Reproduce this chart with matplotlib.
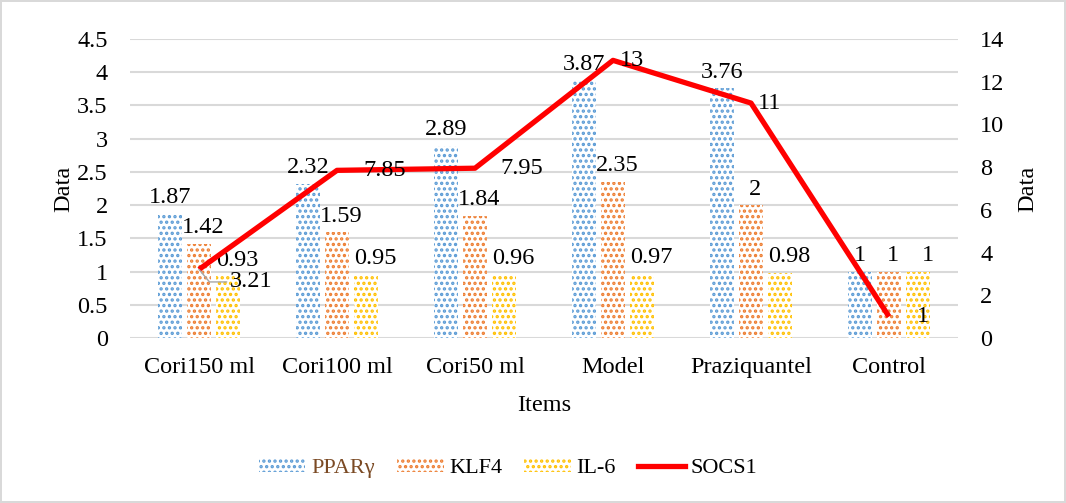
import numpy as np
import matplotlib.pyplot as plt
from matplotlib.lines import Line2D
from matplotlib.patches import Patch

# data
items = ['Cori150 ml', 'Cori100 ml', 'Cori50 ml', 'Model', 'Praziquantel', 'Control']
ppar = [1.87, 2.32, 2.89, 3.87, 3.76, 1]
klf4 = [1.42, 1.59, 1.84, 2.35, 2, 1]
il6 = [0.93, 0.95, 0.96, 0.97, 0.98, 1]
socs1 = [3.21, 7.85, 7.95, 13, 11, 1]

plt.rcParams['font.family'] = ['Liberation Serif', 'DejaVu Serif']
plt.rcParams['font.size'] = 17.5
plt.rcParams['hatch.linewidth'] = 1.6

fig = plt.figure(figsize=(10.66, 5.03), dpi=100)
fig.patch.set_edgecolor('#d9d9d9')
fig.patch.set_linewidth(1.5)
ax = fig.add_axes([130 / 1066, 1 - 338 / 503, 828 / 1066, 299 / 503])
ax2 = ax.twinx()

x = np.arange(len(items))
w = 0.18
off = 0.21
series = [(ppar, '#5b9bd5', -off, 0), (klf4, '#ed7d31', 0, 3), (il6, '#ffc000', off, 7)]
for vals, col, dx, tx in series:
    bars = ax.bar(x + dx, vals, w, facecolor='white', edgecolor=col,
                  hatch='...', linewidth=0, zorder=2)
    for b, v in zip(bars, vals):
        ax.annotate(f'{v:g}', (b.get_x() + b.get_width() / 2, v),
                    xytext=(tx, 4), textcoords='offset points',
                    ha='center', va='bottom', zorder=5)

ax.set_xlim(-0.5, len(items) - 0.5)
ax.set_ylim(0, 4.5)
ax.set_yticks(np.arange(0, 4.51, 0.5))
ax.set_yticklabels(['0', '0.5', '1', '1.5', '2', '2.5', '3', '3.5', '4', '4.5'])
ax.set_xticks(x)
ax.set_xticklabels(items)
ax.grid(axis='y', color='#d9d9d9', linewidth=1.5, zorder=0)
ax.set_axisbelow(True)
ax.tick_params(axis='y', length=0, pad=16)
ax.tick_params(axis='x', length=0, pad=14)
for s in ax.spines.values():
    s.set_visible(False)
ax.set_xlabel('Items', labelpad=12)
ax.set_ylabel('Data', labelpad=2)

ax2.plot(x, socs1, color='#ff0000', linewidth=3.8, zorder=4, solid_capstyle='butt')
ax2.set_ylim(0, 14)
ax2.set_yticks(np.arange(0, 15, 2))
ax2.tick_params(length=0, pad=16)
for s in ax2.spines.values():
    s.set_visible(False)
ax2.set_ylabel('Data', labelpad=9)

line_offsets = [(22, -9), (19, 0), (18, 0), (5, 0), (5, 0), (20, 0)]
for i, (v, (ox, oy)) in enumerate(zip(socs1, line_offsets)):
    if i == 0:
        ax2.annotate(f'{v:g}', (x[i], v), xytext=(ox, oy), textcoords='offset points',
                     ha='left', va='center', zorder=6,
                     arrowprops=dict(arrowstyle='-', color='#a6a6a6', lw=1,
                                     shrinkA=0, shrinkB=0,
                                     connectionstyle='angle,angleA=0,angleB=-50,rad=0'))
    else:
        ax2.annotate(f'{v:g}', (x[i], v), xytext=(ox, oy), textcoords='offset points',
                     ha='left', va='center', zorder=6)

handles = [Patch(facecolor='white', edgecolor='#5b9bd5', hatch='...', linewidth=0),
           Patch(facecolor='white', edgecolor='#ed7d31', hatch='...', linewidth=0),
           Patch(facecolor='white', edgecolor='#ffc000', hatch='...', linewidth=0),
           Line2D([0], [0], color='#ff0000', linewidth=3.8)]
leg = fig.legend(handles, ['PPARγ', 'KLF4', 'IL-6', 'SOCS1'], loc='center',
                 bbox_to_anchor=(508 / 1066, 1 - 468 / 503), ncol=4, frameon=False,
                 fontsize=16, handlelength=2.1, handleheight=0.55,
                 columnspacing=1.0, handletextpad=0.25)
leg.get_texts()[0].set_color('#7b4a24')

fig.savefig('out.png', dpi=100)
